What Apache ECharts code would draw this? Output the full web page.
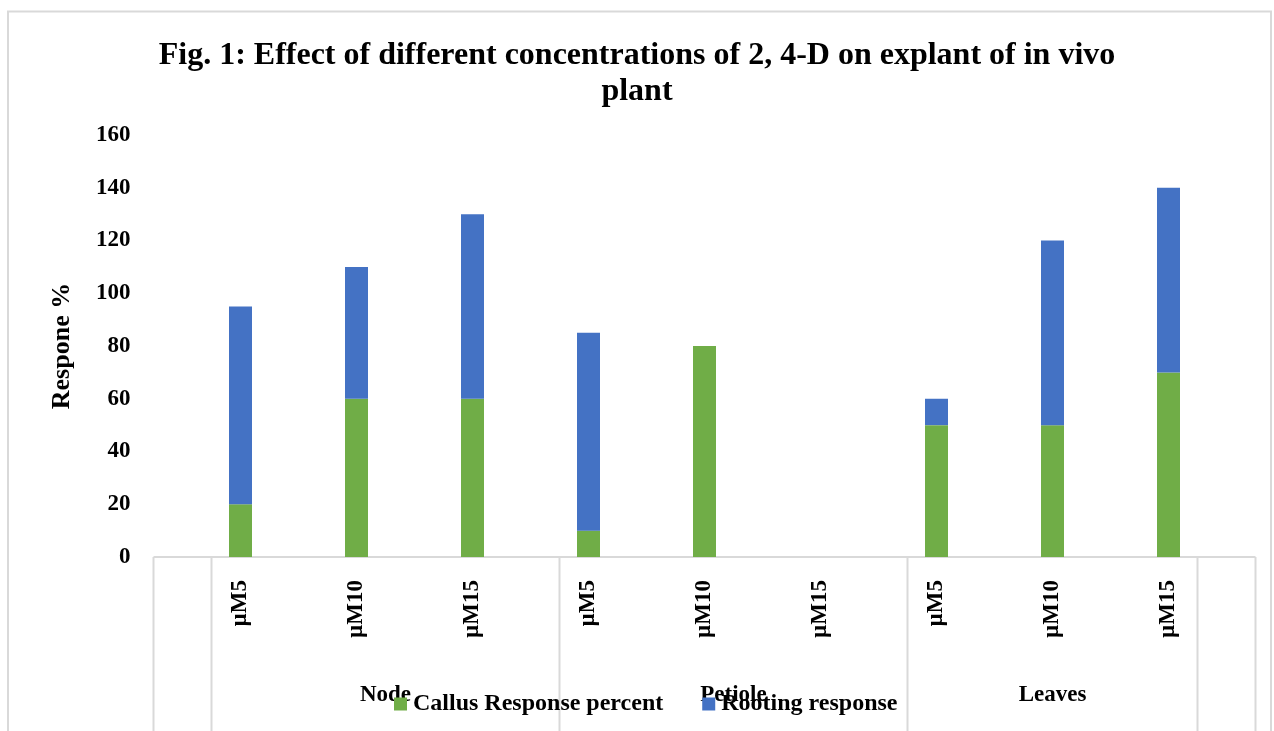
<!DOCTYPE html>
<html>
<head>
<meta charset="utf-8">
<script src="https://cdn.jsdelivr.net/npm/echarts@6/dist/echarts.min.js"></script>
<style>
html,body{margin:0;padding:0;background:#fff;}
#chart{width:1274px;height:731px;}
</style>
</head>
<body>
<div id="chart"></div>
<script>
// ---- data ----
const categories = ['µM5','µM10','µM15','µM5','µM10','µM15','µM5','µM10','µM15'];
const groups = ['Node','Petiole','Leaves'];
const callusResponse = [20, 60, 60, 10, 80, 0, 50, 50, 70];
const rootingResponse = [75, 50, 70, 75, 0, 0, 10, 70, 70];
const seriesNames = ['Callus Response percent', 'Rooting response'];
const titleText = 'Fig. 1: Effect of different concentrations of 2, 4-D on explant of in vivo\nplant';
const yAxisName = 'Respone %';

// multi-level axis table boundaries (in category-index units)
const outerEdges = [-0.75, 8.75];
const groupEdges = [-0.25, 2.75, 5.75, 8.25];

const FONT = '"Liberation Serif", "Times New Roman", serif';
const W = 1274, H = 731;
const gridLeft = 182.5, gridRight = 47.5, gridTop = 135, gridBottom = 174;
const axisY = H - gridBottom;
const band = (W - gridLeft - gridRight) / categories.length;
const xOf = i => gridLeft + (i + 0.5) * band;

const lineColor = '#d9d9d9';
const graphics = [];
// outer chart border
graphics.push({type:'rect', shape:{x:8, y:11.5, width:1263, height:800}, style:{fill:null, stroke:lineColor, lineWidth:2}, silent:true, z:-1});
// axis line
graphics.push({type:'line', shape:{x1:xOf(outerEdges[0]), y1:axisY, x2:xOf(outerEdges[1]), y2:axisY}, style:{stroke:lineColor, lineWidth:2}, silent:true});
// vertical separators
[outerEdges[0], ...groupEdges, outerEdges[1]].forEach(e => {
  graphics.push({type:'line', shape:{x1:xOf(e), y1:axisY, x2:xOf(e), y2:H + 5}, style:{stroke:lineColor, lineWidth:2}, silent:true});
});
// group labels
groups.forEach((g, k) => {
  const cx = xOf((groupEdges[k] + groupEdges[k + 1]) / 2);
  graphics.push({type:'text', x:cx, y:695, style:{text:g, font:'bold 23px ' + FONT, fill:'#000', textAlign:'center', textVerticalAlign:'middle'}, silent:true});
});

const chart = echarts.init(document.getElementById('chart'), null, {renderer:'canvas'});
chart.setOption({
  backgroundColor:'#fff',
  animation:false,
  title:{
    text:titleText, left:'center', top:33,
    textStyle:{fontFamily:FONT, fontWeight:'bold', fontSize:32, lineHeight:36, color:'#000'}
  },
  legend:{
    data:seriesNames, left:394, top:692, padding:0, itemGap:39,
    itemWidth:13, itemHeight:13, icon:'rect',
    textStyle:{fontFamily:FONT, fontWeight:'bold', fontSize:24, color:'#000', padding:[0,0,0,1]}
  },
  grid:{left:gridLeft, right:gridRight, top:gridTop, bottom:gridBottom, containLabel:false},
  xAxis:{
    type:'category', data:categories,
    axisLine:{show:false}, axisTick:{show:false}, splitLine:{show:false},
    axisLabel:{rotate:90, margin:23, fontFamily:FONT, fontWeight:'bold', fontSize:23, color:'#000', interval:0}
  },
  yAxis:{
    type:'value', min:0, max:160, interval:20,
    name:yAxisName, nameLocation:'middle', nameGap:107, nameRotate:90,
    nameTextStyle:{fontFamily:FONT, fontWeight:'bold', fontSize:26, color:'#000'},
    axisLine:{show:false}, axisTick:{show:false}, splitLine:{show:false},
    axisLabel:{margin:52, fontFamily:FONT, fontWeight:'bold', fontSize:23, color:'#000'}
  },
  series:[
    {name:seriesNames[0], type:'bar', stack:'total', data:callusResponse, barWidth:23, itemStyle:{color:'#70ad47'}},
    {name:seriesNames[1], type:'bar', stack:'total', data:rootingResponse, barWidth:23, itemStyle:{color:'#4472c4'}}
  ],
  graphic:graphics
});
</script>
</body>
</html>
